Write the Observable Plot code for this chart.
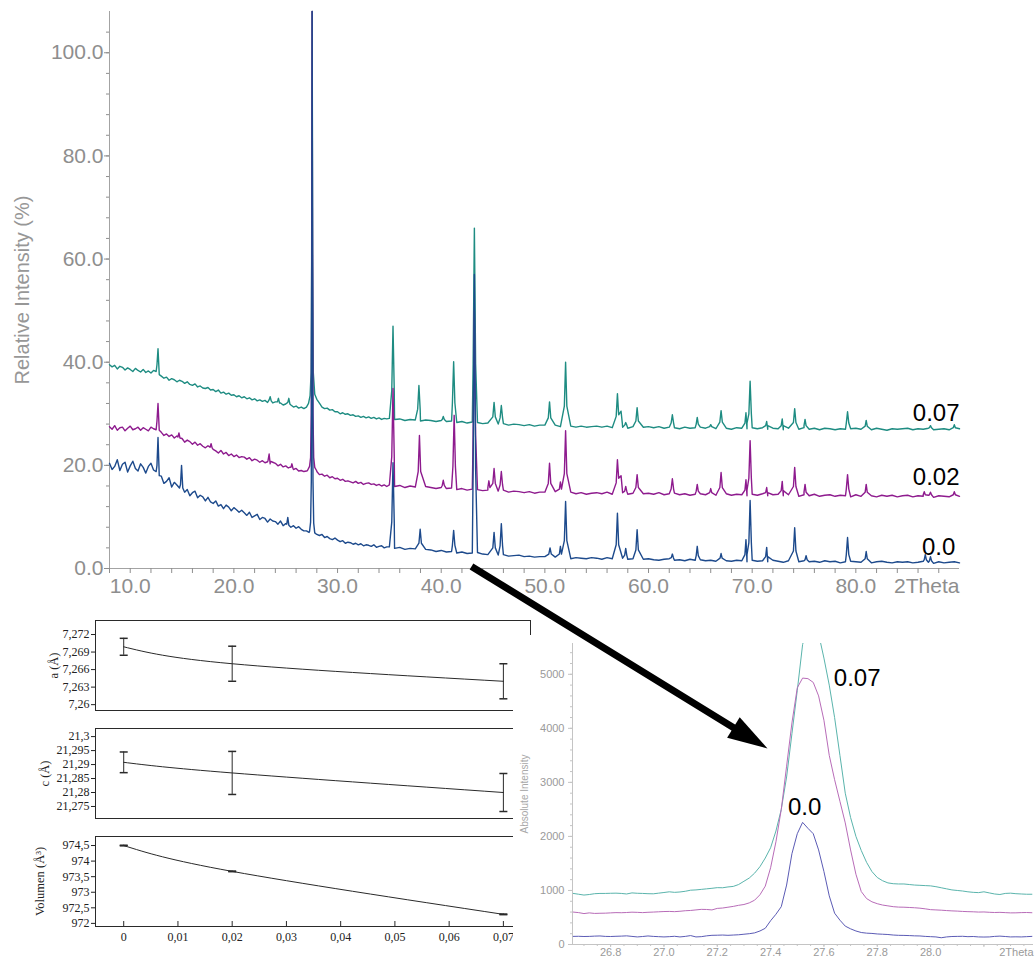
<!DOCTYPE html>
<html>
<head>
<meta charset="utf-8">
<script src="https://cdn.jsdelivr.net/npm/d3@7"></script>
<script src="https://cdn.jsdelivr.net/npm/@observablehq/plot@0.6"></script>
<style>
  body { margin: 0; background: #fff; }
  #figure { position: relative; width: 1036px; height: 959px; overflow: hidden; background: #fff; }
  #figure svg { position: absolute; }
</style>
</head>
<body>
<div id="figure"></div>
<script>
// ---------------------------------------------------------------------------
// Powder XRD patterns (relative intensity, %) for three dopant levels.
// Background is sampled on a 0.25° grid (8–34.75°) and a 0.5° grid (35–90°);
// reflections are short [2θ, intensity] point lists that replace the
// background samples lying inside them.
// ---------------------------------------------------------------------------
const lowGridStart = 8, lowGridStep = 0.25;
const highGridStart = 35, highGridStep = 0.5;

const background007Low = [
  39.5, 39.1, 39.4, 38.7, 39.2, 39.0, 38.5, 38.9, 38.6, 38.2, 38.8, 38.4, 38.1, 38.6, 38.0, 38.3, 37.9, 38.4, 38.2, 38.4,
  37.3, 36.9, 37.1, 36.5, 36.8, 36.6, 36.2, 36.5,
  36.3, 35.9, 36.2, 35.7, 35.5, 35.8, 35.2, 35.4, 35.0, 34.9, 35.1, 34.6,
  34.7, 34.3, 34.6, 34.0, 34.2, 33.8, 34.0, 33.6, 33.7, 33.3, 33.5, 33.1,
  33.3, 32.9, 33.1, 32.7, 32.9, 32.5, 32.7, 32.4, 32.6, 32.2, 32.4, 32.1,
  32.3, 31.9, 32.1, 31.7, 31.9, 31.5, 31.7, 31.3, 31.5, 31.1, 31.3, 31.0,
  31.3, 31.1, 31.5, 31.7, 32.0, 31.6, 31.3, 31.0, 31.1, 30.7, 30.8, 30.4,
  30.4, 30.0, 30.2, 29.9, 30.0, 29.7, 29.8, 29.5, 29.6, 29.3, 29.5, 29.2,
  29.4, 29.1, 29.3, 29.0, 29.2, 28.9, 29.1, 29.0
];
const background007High = [
  29.1, 28.9, 29.0, 28.7, 28.9, 28.8, 28.6, 28.8, 28.7, 28.5,
  28.7, 28.5, 28.6, 28.3, 28.5, 28.2, 28.4, 28.3, 28.1, 28.2,
  28.2, 28.0, 28.1, 27.8, 28.0, 27.9, 27.7, 27.9, 27.6, 27.8,
  27.8, 27.6, 27.8, 27.5, 27.7, 27.6, 27.4, 27.6, 27.4, 27.5,
  27.6, 27.4, 27.6, 27.3, 27.5, 27.4, 27.2, 27.5, 27.3, 27.4,
  27.5, 27.3, 27.5, 27.2, 27.4, 27.3, 27.1, 27.4, 27.2, 27.3,
  27.4, 27.2, 27.4, 27.1, 27.3, 27.2, 27.0, 27.3, 27.2, 27.1,
  27.3, 27.1, 27.3, 27.0, 27.2, 27.1, 26.9, 27.2, 27.1, 27.0,
  27.3, 27.0, 27.2, 26.9, 27.2, 27.1, 26.9, 27.1, 27.0, 27.1,
  27.2, 27.0, 27.1, 26.9, 27.2, 27.0, 26.8, 27.1, 27.0, 27.1,
  27.2, 26.9, 27.1, 27.0, 27.2, 26.9, 27.0, 27.1, 26.9, 27.0, 27.1
];
const reflections007 = [
  [[12.58, 39.5], [12.68, 42.6], [12.8, 37.6]],
  [[23.4, 32.7], [23.5, 33.3], [23.6, 32.5]],
  [[24.2, 32.3], [24.3, 33.0], [24.4, 32.1]],
  [[25.2, 32.2], [25.3, 33.0], [25.4, 31.9]],
  [[27.0, 31.3], [27.2, 32.0], [27.35, 33.5], [27.45, 38], [27.5, 60], [27.55, 108], [27.6, 60], [27.66, 38], [27.8, 33.8], [28.0, 32.8], [28.3, 31.9]],
  [[35.23, 34.5], [35.35, 47.0], [35.47, 34.5]],
  [[37.73, 30.9], [37.85, 35.5], [37.97, 30.9]],
  [[40.1, 28.9], [40.2, 29.5], [40.3, 28.9]],
  [[41.08, 32.1], [41.2, 40.1], [41.32, 32.1]],
  [[43.08, 39.7], [43.2, 66.0], [43.32, 39.7]],
  [[44.98, 29.4], [45.1, 32.2], [45.22, 29.4]],
  [[45.68, 29.2], [45.8, 31.6], [45.92, 29.2]],
  [[50.33, 29.2], [50.45, 32.3], [50.57, 29.2]],
  [[51.88, 31.5], [52.0, 40.0], [52.12, 31.5]],
  [[56.88, 29.5], [57.0, 33.9], [57.12, 29.8], [57.35, 30.5], [57.47, 28.2]],
  [[57.7, 27.8], [57.8, 28.3], [57.9, 27.8]],
  [[58.78, 28.6], [58.9, 31.2], [59.02, 28.6]],
  [[62.18, 28.2], [62.3, 29.8], [62.42, 28.2]],
  [[64.6, 28.0], [64.7, 29.3], [64.8, 28.0]],
  [[65.9, 27.5], [66.0, 27.9], [66.1, 27.5]],
  [[66.88, 28.4], [67.0, 30.6], [67.12, 28.4]],
  [[69.3, 28.2], [69.4, 30.2], [69.5, 28.2]],
  [[69.68, 30.0], [69.8, 36.3], [69.92, 30.0]],
  [[71.3, 27.7], [71.4, 28.5], [71.5, 27.7]],
  [[72.8, 27.7], [72.9, 29.0], [73.0, 27.7]],
  [[73.98, 28.3], [74.1, 31.0], [74.22, 28.3]],
  [[75.0, 27.7], [75.1, 28.9], [75.2, 27.7]],
  [[79.08, 28.2], [79.2, 30.4], [79.32, 28.2]],
  [[80.9, 27.6], [81.0, 28.7], [81.1, 27.6]],
  [[87.1, 27.3], [87.2, 27.7], [87.3, 27.3]],
  [[89.4, 27.3], [89.5, 27.9], [89.6, 27.3]]
];

const background002Low = [
  27.5, 27.0, 27.7, 26.8, 27.3, 27.4, 26.7, 27.2, 27.6, 26.9, 27.1, 27.4, 26.8, 27.3, 27.0, 26.7, 27.4, 27.1, 26.9, 27.2,
  26.4, 25.8, 26.1, 25.6, 25.9, 25.3, 25.7, 25.4,
  25.2, 24.5, 24.9, 24.6, 24.1, 24.5, 23.9, 24.2, 23.7, 23.4, 23.8, 23.2,
  23.1, 22.8, 22.4, 22.9, 22.2, 22.5, 21.9, 22.2, 21.7, 22.0, 21.5, 21.7,
  21.6, 21.2, 21.5, 20.9, 21.2, 21.0, 20.6, 20.9, 20.5, 20.7, 20.3, 20.6,
  20.4, 19.9, 20.2, 19.7, 19.9, 19.5, 19.7, 19.2, 19.4, 18.9, 19.0, 18.8,
  18.9, 18.6, 18.8, 18.6, 18.9, 18.2, 18.3, 17.9, 18.1, 17.6, 17.8, 17.4,
  17.5, 17.1, 17.3, 16.9, 17.0, 16.8, 16.6, 16.9, 16.5, 16.7, 16.3, 16.5,
  16.6, 16.3, 16.4, 16.1, 16.3, 16.0, 16.2, 15.9
];
const background002High = [
  16.2, 15.9, 16.1, 15.7, 16.0, 15.8, 15.6, 15.9, 15.7, 15.5,
  15.7, 15.5, 15.6, 15.3, 15.5, 15.2, 15.4, 15.3, 15.1, 15.2,
  15.1, 15.0, 15.2, 14.8, 15.0, 14.9, 14.7, 14.9, 14.6, 14.8,
  14.8, 14.6, 14.9, 14.5, 14.7, 14.8, 14.5, 14.7, 14.4, 14.6,
  14.7, 14.5, 14.8, 14.4, 14.6, 14.7, 14.4, 14.6, 14.3, 14.5,
  14.6, 14.4, 14.7, 14.3, 14.5, 14.6, 14.3, 14.5, 14.2, 14.4,
  14.5, 14.3, 14.6, 14.2, 14.4, 14.5, 14.2, 14.4, 14.3, 14.1,
  14.4, 14.2, 14.5, 14.1, 14.3, 14.4, 14.1, 14.3, 14.2, 14.0,
  14.3, 14.1, 14.4, 14.0, 14.2, 14.3, 14.0, 14.2, 14.1, 13.9,
  14.3, 14.0, 14.2, 14.1, 13.9, 14.2, 14.0, 14.2, 13.9, 14.1,
  14.2, 13.9, 14.1, 14.0, 14.2, 13.8, 14.1, 14.0, 13.9, 14.1, 14.0
];
const reflections002 = [
  [[12.58, 28.6], [12.68, 32.0], [12.8, 26.8]],
  [[14.6, 25.5], [14.7, 26.3], [14.8, 25.3]],
  [[17.7, 23.5], [17.8, 24.2], [17.9, 23.4]],
  [[23.3, 21.0], [23.4, 22.2], [23.5, 20.8]],
  [[25.5, 19.6], [25.6, 20.3], [25.7, 19.4]],
  [[27.1, 19.0], [27.3, 19.8], [27.4, 21.5], [27.47, 30], [27.52, 70], [27.55, 108], [27.58, 70], [27.63, 30], [27.7, 21.5], [27.8, 19.6], [28.0, 18.8]],
  [[35.23, 21.7], [35.35, 34.9], [35.47, 21.7]],
  [[37.78, 18.8], [37.9, 25.8], [38.02, 18.8]],
  [[40.1, 16.1], [40.2, 17.1], [40.3, 16.1]],
  [[41.13, 19.8], [41.25, 29.7], [41.37, 19.8]],
  [[43.08, 25.8], [43.2, 50.0], [43.32, 25.8]],
  [[44.5, 15.7], [44.6, 17.0], [44.7, 15.7]],
  [[44.98, 16.5], [45.1, 19.4], [45.22, 16.5]],
  [[45.68, 16.2], [45.8, 18.8], [45.92, 16.2]],
  [[50.33, 16.5], [50.45, 20.4], [50.57, 16.5]],
  [[51.4, 15.4], [51.5, 16.8], [51.6, 15.4]],
  [[51.88, 18.4], [52.0, 26.7], [52.12, 18.4]],
  [[56.88, 16.6], [57.0, 21.1], [57.12, 17.5], [57.35, 18.0], [57.47, 15.4]],
  [[57.7, 15.0], [57.8, 15.9], [57.9, 15.0]],
  [[58.78, 15.7], [58.9, 18.2], [59.02, 15.7]],
  [[62.18, 15.4], [62.3, 17.4], [62.42, 15.4]],
  [[64.6, 15.0], [64.7, 16.3], [64.8, 15.0]],
  [[65.9, 14.7], [66.0, 15.5], [66.1, 14.7]],
  [[66.88, 15.7], [67.0, 18.6], [67.12, 15.7]],
  [[69.3, 15.2], [69.4, 17.2], [69.5, 15.2]],
  [[69.68, 17.5], [69.8, 24.8], [69.92, 17.5]],
  [[71.3, 14.7], [71.4, 15.7], [71.5, 14.7]],
  [[72.8, 15.1], [72.9, 16.9], [73.0, 15.1]],
  [[73.98, 15.9], [74.1, 19.6], [74.22, 15.9]],
  [[75.0, 14.8], [75.1, 16.3], [75.2, 14.8]],
  [[79.08, 15.4], [79.2, 18.2], [79.32, 15.4]],
  [[80.9, 14.8], [81.0, 16.3], [81.1, 14.8]],
  [[86.5, 14.3], [86.6, 14.9], [86.7, 14.3]],
  [[87.1, 14.3], [87.2, 14.8], [87.3, 14.3]],
  [[89.4, 14.3], [89.5, 14.9], [89.6, 14.3]]
];

const background000Low = [
  20.4, 19.2, 19.8, 21.1, 19.0, 20.2, 20.6, 18.7, 19.9, 20.8, 19.4, 18.9, 20.3, 19.6, 18.5, 19.8, 20.4, 19.1, 18.8, 19.6,
  17.9, 16.5, 16.9, 17.6, 15.8, 16.7, 16.2, 15.6,
  15.9, 14.8, 15.3, 14.1, 14.7, 15.0, 13.7, 14.2, 13.9, 13.1, 13.8, 12.9,
  12.6, 13.1, 12.1, 12.4, 11.6, 12.3, 11.9, 11.2, 11.8, 11.4, 10.9, 11.3,
  10.8, 10.3, 10.9, 9.9, 10.2, 10.5, 9.5, 9.9, 9.7, 9.0, 9.6, 9.2,
  9.1, 8.6, 9.2, 8.3, 8.7, 8.9, 8.0, 8.3, 7.8, 8.1, 7.6, 7.3,
  7.3, 7.0, 7.1, 6.8, 6.6, 6.4, 6.6, 6.0, 6.2, 5.8, 5.6, 5.9,
  5.5, 5.2, 5.4, 4.9, 5.1, 5.0, 4.7, 4.9, 4.6, 4.8, 4.4, 4.6,
  4.5, 4.3, 4.6, 4.1, 4.3, 4.4, 4.0, 4.2
];
const background000High = [
  4.2, 3.9, 4.1, 3.7, 3.9, 3.8, 3.5, 3.7, 3.6, 3.3,
  3.5, 3.2, 3.3, 3.0, 3.2, 2.9, 3.0, 3.1, 2.8, 2.7,
  2.8, 2.6, 2.7, 2.4, 2.5, 2.6, 2.3, 2.4, 2.2, 2.3,
  2.3, 2.1, 2.2, 2.0, 2.3, 1.9, 2.1, 2.0, 1.9, 2.1,
  2.0, 1.8, 2.1, 1.9, 1.7, 2.0, 1.8, 1.9, 1.7, 1.8,
  1.9, 1.7, 1.6, 1.8, 1.9, 1.6, 1.7, 1.5, 1.8, 1.6,
  1.7, 1.5, 1.6, 1.4, 1.7, 1.5, 1.4, 1.6, 1.5, 1.3,
  1.6, 1.4, 1.5, 1.3, 1.6, 1.4, 1.2, 1.5, 1.4, 1.3,
  1.5, 1.3, 1.4, 1.2, 1.5, 1.3, 1.4, 1.1, 1.3, 1.4,
  1.3, 1.2, 1.4, 1.1, 1.3, 1.4, 1.2, 1.1, 1.3, 1.2,
  1.3, 1.1, 1.2, 1.4, 1.2, 1.0, 1.3, 1.1, 1.2, 1.3, 1.1
];
const reflections000 = [
  [[12.58, 20.0], [12.68, 25.4], [12.8, 18.0]],
  [[14.85, 16.3], [14.95, 20.0], [15.07, 15.6]],
  [[25.1, 8.6], [25.2, 9.9], [25.3, 8.4]],
  [[27.3, 7.2], [27.4, 9.0], [27.47, 17], [27.52, 60], [27.55, 108], [27.58, 60], [27.63, 17], [27.7, 8.8], [27.8, 6.9]],
  [[35.23, 9.0], [35.35, 20.5], [35.47, 9.0]],
  [[37.85, 4.9], [37.97, 7.6], [38.09, 4.9]],
  [[41.08, 4.5], [41.2, 7.4], [41.32, 4.5]],
  [[43.08, 19.2], [43.2, 57.0], [43.32, 19.2]],
  [[44.98, 4.0], [45.1, 7.0], [45.22, 4.0]],
  [[45.68, 4.4], [45.8, 8.7], [45.92, 4.4]],
  [[50.38, 2.8], [50.5, 4.0], [50.62, 2.8]],
  [[51.4, 2.8], [51.5, 4.3], [51.6, 2.8]],
  [[51.88, 5.4], [52.0, 13.0], [52.12, 5.4]],
  [[56.88, 4.6], [57.0, 10.7], [57.12, 4.6]],
  [[57.7, 2.6], [57.8, 3.9], [57.9, 2.6]],
  [[58.78, 3.6], [58.9, 7.5], [59.02, 3.6]],
  [[62.2, 2.1], [62.3, 2.8], [62.4, 2.1]],
  [[64.6, 2.5], [64.7, 4.3], [64.8, 2.5]],
  [[66.9, 2.0], [67.0, 2.9], [67.1, 2.0]],
  [[69.3, 2.7], [69.4, 5.6], [69.5, 2.7]],
  [[69.68, 5.0], [69.8, 13.2], [69.92, 5.0]],
  [[71.3, 2.3], [71.4, 4.1], [71.5, 2.3]],
  [[73.98, 3.4], [74.1, 7.9], [74.22, 3.4]],
  [[75.1, 1.7], [75.2, 2.5], [75.3, 1.7]],
  [[79.08, 2.7], [79.2, 6.0], [79.32, 2.7]],
  [[80.9, 1.9], [81.0, 3.3], [81.1, 1.9]],
  [[86.6, 1.7], [86.7, 2.7], [86.8, 1.7]],
  [[87.1, 1.5], [87.2, 2.3], [87.3, 1.5]]
];

const patternLabels = [
  {text: "0.07", x: 90, y: 30.0},
  {text: "0.02", x: 90, y: 17.6},
  {text: "0.0", x: 89.6, y: 4.1}
];
const yMajorTicks = [0, 20, 40, 60, 80, 100];
const yMinorTicks = d3.range(0, 108, 4);
const xTicks = d3.range(8, 90, 2);
const xTitle = "2Theta";
const yTitle = "Relative Intensity (%)";

// ---------------------------------------------------------------------------
// Lattice parameters vs dopant content
// ---------------------------------------------------------------------------
const dopant = [0, 0.02, 0.07];
const latticeA = [7.2699, 7.2670, 7.2640];
const latticeAErr = [0.00145, 0.003, 0.003];
const latticeC = [21.2908, 21.2870, 21.2800];
const latticeCErr = [0.0037, 0.0077, 0.0068];
const cellVolume = [974.5, 973.67, 972.29];
const cellVolumeErr = [0.01, 0.01, 0.01];
const aTicks = [7.26, 7.263, 7.266, 7.269, 7.272];
const cTicks = [21.275, 21.28, 21.285, 21.29, 21.295, 21.3];
const volumeTicks = [972, 972.5, 973, 973.5, 974, 974.5];
const dopantTicks = [0, 0.01, 0.02, 0.03, 0.04, 0.05, 0.06, 0.07];

// ---------------------------------------------------------------------------
// Detail of the strongest reflection (absolute intensity), 0.02° steps
// ---------------------------------------------------------------------------
const zoomStart = 26.66, zoomStep = 0.02;
const zoomCounts007 = [
  945, 930, 915, 925, 940, 945, 945, 948, 950, 945,
  935, 955, 948, 945, 940, 938, 950, 962, 975, 965,
  972, 985, 1005, 1010, 1020, 1030, 1040, 1052, 1050, 1065,
  1075, 1110, 1170, 1230, 1320, 1440, 1600, 1790, 2100, 2500,
  3100, 3900, 4700, 5550, 5900, 6000, 5750, 5300, 4800, 4200,
  3500, 2800, 2350, 2000, 1740, 1520, 1350, 1240, 1180, 1140,
  1125, 1120, 1120, 1110, 1100, 1095, 1090, 1085, 1070, 1050,
  1030, 1010, 1000, 990, 975, 965, 960, 975, 955, 935,
  925, 945, 950, 940, 935, 930, 930
];
const zoomCounts002 = [
  600, 590, 572, 585, 575, 578, 580, 585, 590, 588,
  592, 598, 595, 590, 596, 600, 605, 610, 612, 608,
  615, 625, 630, 640, 650, 648, 640, 668, 675, 690,
  705, 725, 740, 770, 820, 920, 1080, 1420, 1900, 2500,
  3300, 4100, 4750, 4930, 4920, 4850, 4600, 4150, 3500, 3050,
  2650, 2250, 1750, 1300, 980, 850, 790, 755, 730, 715,
  700, 692, 690, 685, 680, 672, 660, 645, 640, 635,
  628, 622, 618, 612, 608, 605, 600, 602, 596, 592,
  595, 590, 585, 586, 590, 592, 588
];
const zoomCounts000 = [
  150, 152, 148, 150, 155, 158, 150, 148, 152, 155,
  160, 150, 140, 148, 158, 150, 145, 140, 145, 152,
  140, 150, 165, 140, 145, 160, 170, 172, 175, 170,
  175, 180, 190, 200, 215, 250, 300, 440, 560, 700,
  1100, 1680, 2050, 2260, 2150, 2050, 1750, 1350, 900, 580,
  450, 340, 290, 250, 222, 210, 205, 195, 190, 185,
  175, 170, 168, 165, 160, 158, 150, 145, 140, 125,
  140, 148, 150, 152, 145, 148, 140, 138, 140, 150,
  155, 148, 140, 142, 140, 145, 150
];
const zoomLabels = [
  {text: "0.07", x: 27.637, y: 4935},
  {text: "0.0", x: 27.465, y: 2532}
];
const zoomXTicks = [26.8, 27.0, 27.2, 27.4, 27.6, 27.8, 28.0, 28.2];
const zoomXMinor = d3.range(0, 34).map(i => 26.7 + 0.05 * i);
const zoomYTicks = [0, 1000, 2000, 3000, 4000, 5000];
const zoomYMinor = d3.range(0, 5600, 200);

// Annotation arrow from the main pattern to the detail view (page pixels)
const arrowTail = [471, 566];
const arrowTip = [767, 748];

// ---------------------------------------------------------------------------
const colors = {teal: "#1e8c82", magenta: "#8e1b8e", navy: "#1d4a8c"};
const zoomColors = {teal: "#5ab4ac", magenta: "#b86cb8", navy: "#5b5bb5"};
const sans = "'Liberation Sans', Arial, Helvetica, sans-serif";
const serif = "'Liberation Serif', 'Times New Roman', serif";

function pattern(lowY, highY, reflections) {
  const bg = [
    ...lowY.map((y, i) => [lowGridStart + lowGridStep * i, y]),
    ...highY.map((y, i) => [highGridStart + highGridStep * i, y])
  ];
  const kept = bg.filter(([x]) => !reflections.some(p => x > p[0][0] && x < p[p.length - 1][0]));
  return kept.concat(...reflections).sort((a, b) => a[0] - b[0]);
}

const series007 = pattern(background007Low, background007High, reflections007);
const series002 = pattern(background002Low, background002High, reflections002);
const series000 = pattern(background000Low, background000High, reflections000);

const fig = document.getElementById("figure");
function place(el, left, top) {
  el.style.left = left + "px";
  el.style.top = top + "px";
  fig.appendChild(el);
}

// ---- Main diffraction pattern ----
const axisGray = "#8e8e8e";
const mainPlot = Plot.plot({
  width: 1036, height: 600,
  marginLeft: 109, marginRight: 77, marginTop: 11, marginBottom: 32,
  x: {domain: [8, 90]},
  y: {domain: [0, 108]},
  style: {fontFamily: sans, fontSize: "21px", color: axisGray, background: "transparent"},
  marks: [
    Plot.ruleX([8], {stroke: "#a3a3a3"}),
    Plot.ruleY([0], {stroke: "#a3a3a3"}),
    Plot.axisY(yMinorTicks, {tickSize: 3, tickFormat: () => "", label: null}),
    Plot.axisY(yMajorTicks, {tickSize: 5, tickPadding: 1, tickFormat: d => d.toFixed(1), label: null}),
    Plot.axisX(xTicks, {tickSize: 5, tickPadding: 5, tickFormat: d => (d % 10 === 0 && d >= 10 && d <= 80) ? d.toFixed(1) : "", label: null}),
    Plot.text([xTitle], {text: d => d, frameAnchor: "bottom-right", textAnchor: "end", lineAnchor: "top", dy: 10, fill: axisGray}),
    Plot.text([yTitle], {text: d => d, frameAnchor: "left", textAnchor: "middle", rotate: -90, dx: -87, fontSize: 20, fill: "#979797"}),
    Plot.line(series007, {x: d => d[0], y: d => d[1], stroke: colors.teal, strokeWidth: 1.4}),
    Plot.line(series002, {x: d => d[0], y: d => d[1], stroke: colors.magenta, strokeWidth: 1.4}),
    Plot.line(series000, {x: d => d[0], y: d => d[1], stroke: colors.navy, strokeWidth: 1.4}),
    Plot.text(patternLabels, {x: "x", y: "y", text: "text", textAnchor: "end", fontSize: 24, fill: "black"})
  ]
});
place(mainPlot, 0, 0);

// ---- Lattice parameter panels ----
const comma = d => String(+d.toFixed(4)).replace(".", ",");
const capSymbol = {
  draw(ctx, size) {
    const w = Math.sqrt(size / Math.PI);
    ctx.moveTo(-w, 0);
    ctx.lineTo(w, 0);
  }
};

function latticePanel({values, errors, yDomain, yTicks, title, titleDx, height, marginTop, marginBottom, withX}) {
  const rows = dopant.map((x, i) => ({x, y: values[i], lo: values[i] - errors[i], hi: values[i] + errors[i]}));
  const frameH = height - marginTop - marginBottom;
  const ink = "#2a2a2a";
  const marks = [
    Plot.frame({stroke: ink}),
    Plot.axisY(yTicks, {tickSize: 4, tickPadding: 2, tickFormat: comma, label: null}),
    Plot.text([title], {text: d => d, frameAnchor: "left", textAnchor: "middle", rotate: -90, dx: titleDx, fontSize: 12.5}),
    Plot.line(rows, {x: "x", y: "y", curve: "natural", stroke: ink, strokeWidth: 1}),
    Plot.ruleX(rows, {x: "x", y1: "lo", y2: "hi", stroke: ink}),
    Plot.dot(rows, {x: "x", y: "lo", symbol: capSymbol, r: 4, stroke: ink, fill: "none"}),
    Plot.dot(rows, {x: "x", y: "hi", symbol: capSymbol, r: 4, stroke: ink, fill: "none"})
  ];
  if (withX) {
    marks.push(Plot.axisX(dopantTicks, {tickSize: 0, tickPadding: 6, tickFormat: comma, label: null}));
    marks.push(Plot.tickX(dopantTicks, {x: d => d, insetTop: frameH - 5, stroke: ink}));
  }
  return Plot.plot({
    width: 532, height, marginLeft: 95, marginRight: 2, marginTop, marginBottom,
    x: {domain: [-0.0052, 0.075], axis: null},
    y: {domain: yDomain},
    style: {fontFamily: serif, fontSize: "12px", color: "#222", background: "transparent"},
    marks
  });
}

place(latticePanel({
  values: latticeA, errors: latticeAErr, yDomain: [7.259, 7.2744], yTicks: aTicks,
  title: "a (Å)", titleDx: -42, height: 115, marginTop: 20, marginBottom: 5, withX: false
}), 0, 600);
place(latticePanel({
  values: latticeC, errors: latticeCErr, yDomain: [21.2707, 21.3029], yTicks: cTicks,
  title: "c (Å)", titleDx: -51, height: 105, marginTop: 10, marginBottom: 5, withX: false
}), 0, 718);
place(latticePanel({
  values: cellVolume, errors: cellVolumeErr, yDomain: [971.9, 974.79], yTicks: volumeTicks,
  title: "Volumen (Å³)", titleDx: -56, height: 133, marginTop: 10, marginBottom: 33, withX: true
}), 0, 826);

// ---- Detail of the strongest reflection ----
const zoomSeries = counts => counts.map((c, i) => [zoomStart + zoomStep * i, c]);
const zoomGray = "#9a9a9a";
const zoomPlot = Plot.plot({
  width: 523, height: 324,
  marginLeft: 59, marginRight: 3, marginTop: 8, marginBottom: 15,
  x: {domain: [26.657, 28.386]},
  y: {domain: [0, 5570]},
  style: {fontFamily: sans, fontSize: "11px", color: zoomGray, background: "white"},
  marks: [
    Plot.ruleX([26.657], {stroke: "#c4c4c4"}),
    Plot.ruleY([0], {stroke: "#c4c4c4"}),
    Plot.axisY(zoomYMinor, {tickSize: 2, tickFormat: () => "", label: null, stroke: "#c4c4c4"}),
    Plot.axisY(zoomYTicks, {tickSize: 4, tickPadding: 4, tickFormat: d => String(d), label: null, stroke: "#c4c4c4"}),
    Plot.axisX(zoomXMinor, {tickSize: 2, tickFormat: () => "", label: null, stroke: "#c4c4c4"}),
    Plot.axisX(zoomXTicks, {tickSize: 3, tickPadding: 1, tickFormat: d => d < 28.1 ? d.toFixed(1) : "", label: null, stroke: "#c4c4c4"}),
    Plot.text(["2Theta"], {text: d => d, frameAnchor: "bottom-right", textAnchor: "end", lineAnchor: "top", dy: 4, fill: zoomGray}),
    Plot.text(["Absolute Intensity"], {text: d => d, frameAnchor: "left", textAnchor: "middle", rotate: -90, dx: -48, fontSize: 10, fill: "#a8a8a8"}),
    Plot.line(zoomSeries(zoomCounts007), {x: d => d[0], y: d => d[1], stroke: zoomColors.teal, strokeWidth: 1, clip: true}),
    Plot.line(zoomSeries(zoomCounts002), {x: d => d[0], y: d => d[1], stroke: zoomColors.magenta, strokeWidth: 1, clip: true}),
    Plot.line(zoomSeries(zoomCounts000), {x: d => d[0], y: d => d[1], stroke: zoomColors.navy, strokeWidth: 1, clip: true}),
    Plot.text(zoomLabels, {x: "x", y: "y", text: "text", textAnchor: "start", fontSize: 24, fill: "black"})
  ]
});
place(zoomPlot, 513, 635);

// ---- Arrow overlay ----
const angle = Math.atan2(arrowTip[1] - arrowTail[1], arrowTip[0] - arrowTail[0]);
const headLength = 40;
const shaft = {
  x1: arrowTail[0], y1: arrowTail[1],
  x2: arrowTip[0] - (headLength - 6) * Math.cos(angle),
  y2: arrowTip[1] - (headLength - 6) * Math.sin(angle)
};
const headSymbol = {
  draw(ctx, size) {
    const s = Math.sqrt(size / Math.PI);
    ctx.moveTo(0, 0);
    ctx.lineTo(-2 * s, -0.6 * s);
    ctx.lineTo(-2 * s, 0.6 * s);
    ctx.closePath();
  }
};
const overlay = Plot.plot({
  width: 1036, height: 959, margin: 0,
  x: {domain: [0, 1036], range: [0, 1036], axis: null},
  y: {domain: [0, 959], range: [0, 959], axis: null},
  style: {background: "transparent", pointerEvents: "none"},
  marks: [
    Plot.link([shaft], {x1: "x1", y1: "y1", x2: "x2", y2: "y2", stroke: "black", strokeWidth: 7}),
    Plot.dot([{x: arrowTip[0], y: arrowTip[1]}], {x: "x", y: "y", symbol: headSymbol, r: headLength / 2, fill: "black", stroke: "none", rotate: angle * 180 / Math.PI})
  ]
});
place(overlay, 0, 0);
</script>
</body>
</html>
